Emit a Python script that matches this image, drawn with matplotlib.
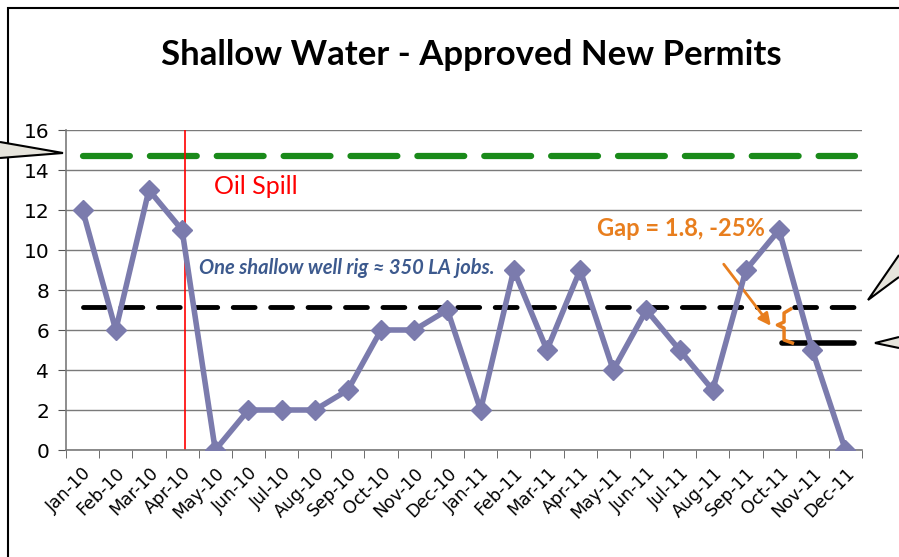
import matplotlib
matplotlib.use("Agg")
import matplotlib.pyplot as plt
from matplotlib.patches import Polygon, Rectangle
import numpy as np

# data
months = ["Jan-10", "Feb-10", "Mar-10", "Apr-10", "May-10", "Jun-10", "Jul-10", "Aug-10",
          "Sep-10", "Oct-10", "Nov-10", "Dec-10", "Jan-11", "Feb-11", "Mar-11", "Apr-11",
          "May-11", "Jun-11", "Jul-11", "Aug-11", "Sep-11", "Oct-11", "Nov-11", "Dec-11"]
permits = [12, 6, 13, 11, 0, 2, 2, 2, 3, 6, 6, 7, 2, 9, 5, 9, 4, 7, 5, 3, 9, 11, 5, 0]
pre_spill_avg = 14.7     # green dashed
post_spill_avg = 7.15    # black dashed
recent_avg = 5.35        # short solid black
spill_x = 3.1            # oil spill marker between Apr-10 and May-10

W, H = 899, 557
fig = plt.figure(figsize=(W / 100, H / 100), dpi=100)
ax = fig.add_axes([66 / W, 1 - 450 / H, 796 / W, 320 / H])

x = np.arange(len(months))
line_col = "#7b7bad"

ax.set_xlim(-0.5, len(months) - 0.5)
ax.set_ylim(0, 16)
ax.set_yticks(range(0, 17, 2))
ax.yaxis.grid(True, color="#7a7a7a", lw=1)
ax.set_axisbelow(True)
for s in ["top", "right"]:
    ax.spines[s].set_visible(False)
for s in ["left", "bottom"]:
    ax.spines[s].set_color("#7a7a7a")
    ax.spines[s].set_linewidth(1.2)

ax.set_xticks(x)
ax.set_xticklabels(months, rotation=45, ha="right", rotation_mode="anchor", fontsize=12.5)
ax.tick_params(axis="x", which="major", length=0, pad=10)
ax.set_xticks(np.arange(-0.5, len(months), 1), minor=True)
ax.tick_params(axis="x", which="minor", length=6, color="#555555")
ax.tick_params(axis="y", length=6, color="#555555", labelsize=14.5, pad=6)

# reference levels
ax.plot([0, 23.3], [pre_spill_avg] * 2, color="#1a8a1a", lw=4.5, ls=(0, (7.5, 3.2)),
        solid_capstyle="round", dash_capstyle="round")
ax.plot([0, 23.3], [post_spill_avg] * 2, color="black", lw=3.5, ls=(0, (4.5, 3.2)),
        dash_capstyle="round")
ax.plot([21.1, 23.25], [recent_avg] * 2, color="black", lw=4, solid_capstyle="round")

ax.axvline(spill_x, color="red", lw=1.2)

ax.plot(x, permits, color=line_col, lw=4, marker="D", markersize=10, zorder=5)

# annotations
ax.text(spill_x + 0.85, 13.15, "Oil Spill", color="red", fontsize=18, family="Lato",
        va="center")
ax.text(3.5, 9.1, "One shallow well rig \u2248 350 LA jobs.", color="#3d5a8e", fontsize=14.5,
        family=["Lato", "DejaVu Sans"], style="italic", weight="bold", va="center")
ax.text(18.05, 11.1, "Gap = 1.8, -25%", color="#e87e1e", fontsize=17, family="Lato",
        weight="bold", ha="center", va="center")
ax.annotate("", xy=(20.8, 6.1), xytext=(19.28, 9.4),
            arrowprops=dict(arrowstyle="-|>", color="#e87e1e", lw=2, mutation_scale=18))
bx = 21.2
mid = (post_spill_avg + recent_avg) / 2
brace_x = [bx + 0.15, bx - 0.05, bx - 0.05, bx - 0.25, bx - 0.05, bx - 0.05, bx + 0.2]
brace_y = [post_spill_avg - 0.1, post_spill_avg - 0.3, mid + 0.15, mid, mid - 0.15,
           recent_avg + 0.15, recent_avg]
ax.plot(brace_x, brace_y, color="#e87e1e", lw=2.5)

fig.text(471 / W, 1 - 55 / H, "Shallow Water - Approved New Permits", ha="center",
         va="center", fontsize=25, weight="bold", family="Lato")

# outer chart border and callout tails
fig.patches.append(Rectangle((8 / W, -0.1), 1.2, 1 - 8 / H + 0.1, transform=fig.transFigure,
                             fill=False, edgecolor="black", lw=1.5))
tails = [[(0, 142), (63, 153), (0, 158)],
         [(899, 255), (868, 300), (899, 277)],
         [(899, 337), (875, 343), (899, 348)]]
for t in tails:
    pts = [(px / W, 1 - py / H) for px, py in t]
    fig.patches.append(Polygon(pts, closed=False, transform=fig.transFigure,
                               facecolor="#e6e4dc", edgecolor="black", lw=1.5))

fig.savefig("out.png", dpi=100)
